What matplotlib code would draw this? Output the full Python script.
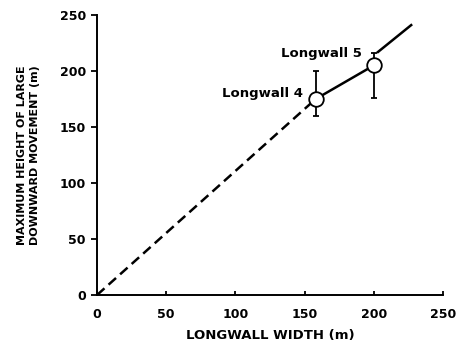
import matplotlib
matplotlib.use("Agg")
import matplotlib.pyplot as plt

# fitted line: dashed from the origin to Longwall 4, solid between the panels,
# then a solid extension above Longwall 5
dash_x = [0, 158]
dash_y = [0, 175]
mid_x = [158, 200]
mid_y = [175, 205]
ext_x = [203, 227]
ext_y = [217, 241]

# observations
names = ["Longwall 4", "Longwall 5"]
width = [158, 200]
height = [175, 205]
err_low = [160, 176]
err_high = [200, 216]

plt.rcParams['font.family'] = ['DejaVu Sans']
plt.rcParams['font.weight'] = 'bold'

fig = plt.figure(figsize=(4.57, 3.45), dpi=100)
ax = fig.add_axes([0.2123, 0.1449, 0.7571, 0.8116])

ax.plot(dash_x, dash_y, color='black', lw=1.8, dashes=(4, 2.2))
ax.plot(mid_x, mid_y, color='black', lw=1.8)
ax.plot(ext_x, ext_y, color='black', lw=1.8)

for x, y, lo, hi in zip(width, height, err_low, err_high):
    ax.errorbar([x], [y], yerr=[[y - lo], [hi - y]], fmt='none', ecolor='black',
                elinewidth=1.3, capsize=2.5, capthick=1.3)
ax.plot(width, height, 'o', ms=10.5, mfc='white', mec='black', mew=1.3, zorder=5)

ax.text(149, 180, names[0], ha='right', va='center', fontsize=9.5, fontweight='bold')
ax.text(191.5, 216, names[1], ha='right', va='center', fontsize=9.5, fontweight='bold')

ax.set_xlim(0, 250)
ax.set_ylim(0, 250)
ax.set_xticks([0, 50, 100, 150, 200, 250])
ax.set_yticks([0, 50, 100, 150, 200, 250])
ax.spines['top'].set_visible(False)
ax.spines['right'].set_visible(False)
ax.spines['left'].set_linewidth(1.4)
ax.spines['bottom'].set_linewidth(1.4)
ax.tick_params(axis='x', direction='in', length=3, width=1.3, labelsize=9, pad=9)
ax.tick_params(axis='y', direction='out', length=4.5, width=1.3, labelsize=9, pad=3.5)

ax.set_xlabel("LONGWALL WIDTH (m)", fontsize=9.5, fontweight='bold', labelpad=6)
ax.set_ylabel("MAXIMUM HEIGHT OF LARGE\nDOWNWARD MOVEMENT (m)", fontsize=8, fontweight='bold',
              labelpad=14, linespacing=1.45)

fig.savefig("out.png", dpi=100)
